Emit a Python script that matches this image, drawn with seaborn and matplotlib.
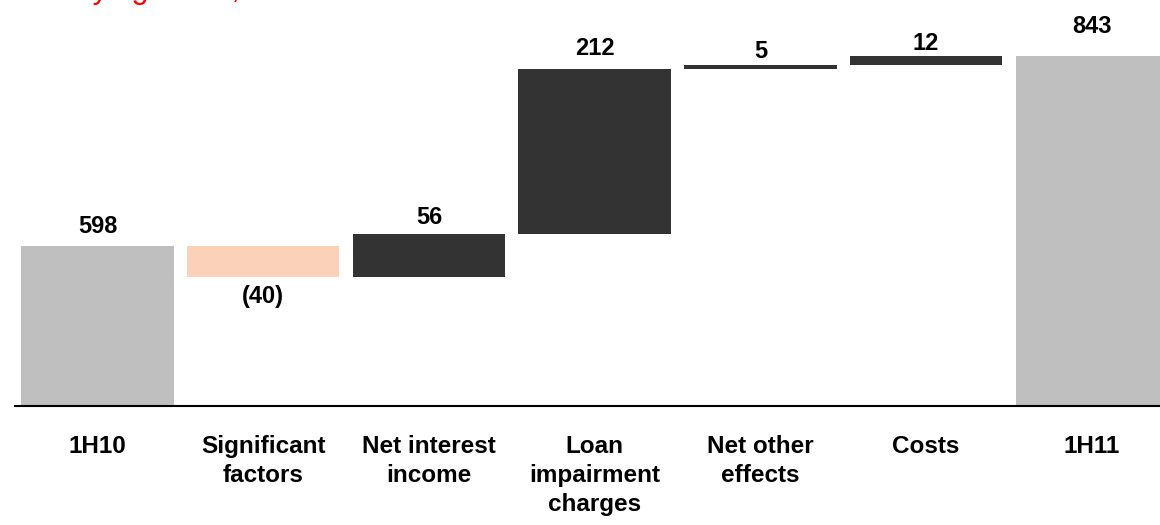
import numpy as np
import pandas as pd
import matplotlib
matplotlib.use("Agg")
import matplotlib.pyplot as plt
import seaborn as sns

# Waterfall data: opening result, movements, closing result
categories = ["1H10", "Significant\nfactors", "Net interest\nincome", "Loan\nimpairment\ncharges",
              "Net other\neffects", "Costs", "1H11"]
values = [598, -40, 56, 212, 5, 12, 843]
kinds = ["total", "delta", "delta", "delta", "delta", "delta", "total"]
value_labels = ["598", "(40)", "56", "212", "5", "12", "843"]

sns.set_theme(style="white")
plt.rcParams["font.family"] = ["Liberation Sans", "DejaVu Sans"]

# Floating bar extents
low, high = [], []
running = 0
for v, k in zip(values, kinds):
    if k == "total":
        low.append(0)
        high.append(v)
        running = v
    else:
        a, b = running, running + v
        low.append(min(a, b))
        high.append(max(a, b))
        running = b

colors = []
for v, k in zip(values, kinds):
    if k == "total":
        colors.append("#BFBFBF")
    elif v < 0:
        colors.append("#FCD1B9")
    else:
        colors.append("#333333")

df = pd.DataFrame({"category": categories, "high": high, "low": low})

fig = plt.figure(figsize=(11.6, 5.25), dpi=100)
ax = fig.add_axes([14.6 / 1160, 119 / 525, 1.0, 406 / 525])

sns.barplot(data=df, x="category", y="high", hue="category", order=categories,
            hue_order=categories, palette=colors, width=0.92, legend=False,
            saturation=1, ax=ax)

# turn the bars into floating waterfall segments
for patch, lo, hi in zip(ax.patches, low, high):
    patch.set_y(lo)
    patch.set_height(hi - lo)
    patch.set_edgecolor("none")

ax.set_ylim(391.6, 915.2)
ax.set_xlim(-0.5, 6.5)
ax.set_xlabel("")
ax.set_ylabel("")
ax.set_yticks([])

for side in ["top", "left", "right"]:
    ax.spines[side].set_visible(False)
ax.spines["bottom"].set_color("black")
ax.spines["bottom"].set_linewidth(1.5)

ax.tick_params(axis="x", length=0, pad=21)
for lbl in ax.get_xticklabels():
    lbl.set_fontweight("bold")
    lbl.set_fontsize(17.5)
    lbl.set_color("black")
    lbl.set_linespacing(1.32)

# value labels (gap in pixels between bar edge and text)
label_gaps = [13, 8, 10, 14, 7, 6, 23]
for i, (v, lo, hi, txt, gap) in enumerate(zip(values, low, high, value_labels, label_gaps)):
    if v < 0:
        ax.annotate(txt, xy=(i, lo), xytext=(0, -gap * 0.72), textcoords="offset points",
                    ha="center", va="top", fontsize=17, fontweight="bold", color="black")
    else:
        ax.annotate(txt, xy=(i, hi), xytext=(0, gap * 0.72), textcoords="offset points",
                    ha="center", va="baseline", fontsize=17, fontweight="bold", color="black")

fig.text(3 / 1160, 1 + 2 / 525, "Underlying result, €m", color="#FF0000",
         fontsize=22, ha="left", va="baseline")

fig.savefig("out.png", dpi=100)
